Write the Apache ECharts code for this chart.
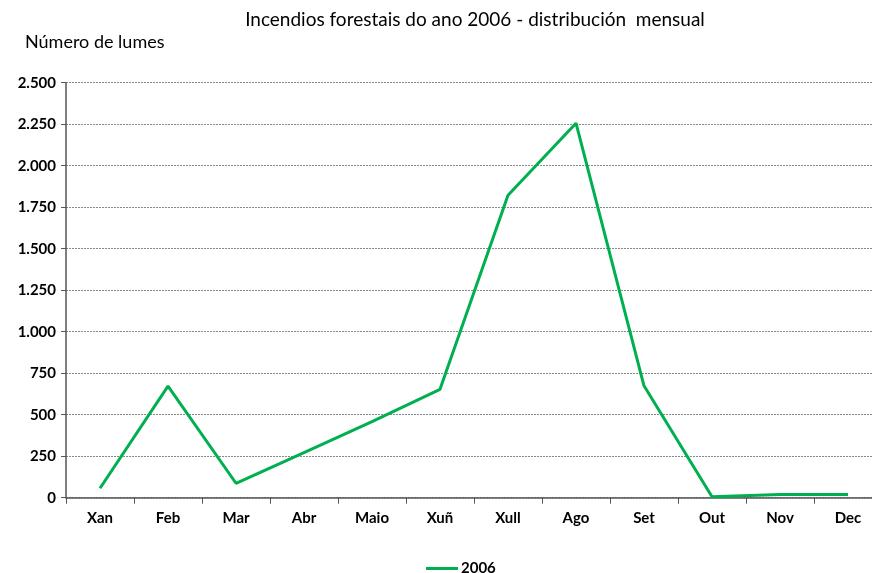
<!DOCTYPE html>
<html><head><meta charset="utf-8">
<script src="https://cdn.jsdelivr.net/npm/echarts@6/dist/echarts.min.js"></script>
<style>html,body{margin:0;padding:0;background:#fff}#c{width:872px;height:573px}</style>
</head><body><div id="c"></div>
<script>
const categories = ['Xan','Feb','Mar','Abr','Maio','Xuñ','Xull','Ago','Set','Out','Nov','Dec'];
const values2006 = [57, 672, 87, 272, 458, 653, 1822, 2256, 674, 6, 20, 20];
const seriesName = '2006';
const yTicks = [0, 250, 500, 750, 1000, 1250, 1500, 1750, 2000, 2250, 2500];

const fmt = v => {
  const s = String(v);
  return s.length > 3 ? s.slice(0, s.length - 3) + '.' + s.slice(-3) : s;
};

const chart = echarts.init(document.getElementById('c'), null, {renderer: 'canvas'});
chart.setOption({
  animation: false,
  backgroundColor: '#ffffff',
  title: [
    {text: 'Incendios forestais do ano 2006 - distribución  mensual', left: 470, top: 5, textAlign: 'center',
     textStyle: {fontFamily: 'Lato', fontSize: 19, fontWeight: 'normal', color: '#000'}},
    {text: 'Número de lumes', left: 20, top: 28,
     textStyle: {fontFamily: 'Lato', fontSize: 18, fontWeight: 'normal', color: '#000'}}
  ],
  legend: {
    data: [seriesName], top: 556, left: 421, itemWidth: 32, itemHeight: 3,
    icon: 'rect', itemGap: 4,
    textStyle: {fontFamily: 'Lato', fontSize: 15, fontWeight: 'bold', color: '#000', padding: [0,0,0,-2]}
  },
  grid: {left: 66, top: 82.7, width: 816, height: 415, outerBoundsMode: 'none', containLabel: false},
  xAxis: {
    type: 'category', data: categories, boundaryGap: true,
    axisLine: {lineStyle: {color: '#555', width: 1.5}},
    axisTick: {show: true, alignWithLabel: false, length: 6, lineStyle: {color: '#555'}},
    axisLabel: {fontFamily: 'Lato', fontSize: 15, fontWeight: 'bold', color: '#000', margin: 13}
  },
  yAxis: {
    type: 'value', min: 0, max: 2500, interval: 250,
    axisLine: {show: true, lineStyle: {color: '#555', width: 1.5}},
    axisTick: {show: true, inside: false, length: 5, lineStyle: {color: '#555'}},
    axisLabel: {fontFamily: 'Lato', fontSize: 15, fontWeight: 'bold', color: '#000', margin: 10,
      formatter: v => yTicks.includes(v) ? fmt(v) : ''},
    splitLine: {show: true, lineStyle: {color: '#888', type: [2, 1], width: 1}}
  },
  series: [{
    name: seriesName, type: 'line', data: values2006, symbol: 'none',
    lineStyle: {color: '#00B050', width: 3}, itemStyle: {color: '#00B050'}
  }]
});
</script></body></html>
